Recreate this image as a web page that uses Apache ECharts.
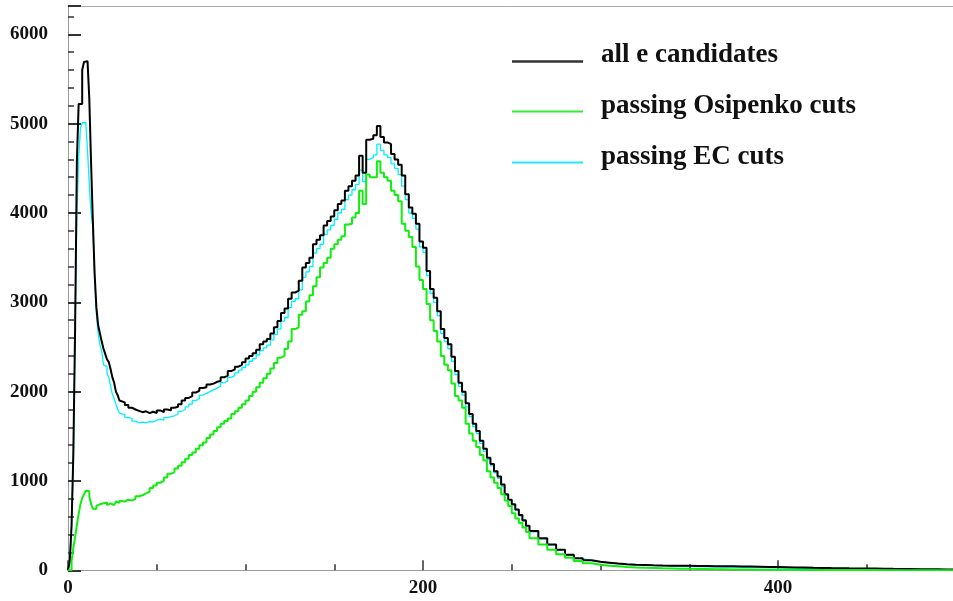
<!DOCTYPE html>
<html><head><meta charset="utf-8">
<script src="https://cdn.jsdelivr.net/npm/echarts@6/dist/echarts.min.js"></script>
<style>html,body{margin:0;padding:0;background:#fff}#c{width:953px;height:601px}</style>
</head><body><div id="c"></div>
<script>
// Legend names
const seriesNames = ['all e candidates', 'passing Osipenko cuts', 'passing EC cuts'];
// Histogram bin layout: segments of [start, width]; last edge at xEnd
const binSegments = [[0, 1], [30, 2], [260, 5]];
const xEnd = 500;
// Tick label values
const xTickLabels = [0, 200, 400];
const yTickLabels = [0, 1000, 2000, 3000, 4000, 5000, 6000];

// all e candidates (black)
const blackFine = [0,100,500,1300,2700,4580,5220,5220,5600,5690,5700,5690,5280,4560,3910,3320,2940,2740,2650,2560,2480,2420,2360,2330,2250,2160,2100,2000,1960,1900];
const blackMid = [1880,1850,1820,1800,1785,1770,1780,1760,1775,1760,
 1790,1770,1800,1790,1820,1830,1860,1900,1930,1950,
 1990,2010,2040,2050,2080,2090,2110,2120,2160,2180,
 2230,2250,2280,2300,2330,2370,2400,2430,2470,2530,
 2560,2590,2650,2720,2790,2880,2930,3040,3110,3130,
 3240,3390,3440,3500,3650,3700,3750,3860,3910,3960,
 4030,4100,4140,4250,4300,4360,4420,4640,4450,4820,
 4830,4870,4975,4850,4790,4770,4660,4600,4540,4420,
 4210,4060,3990,3880,3680,3610,3350,3150,3050,2900,
 2700,2600,2530,2390,2230,2100,2000,1870,1750,1640,
 1560,1450,1360,1260,1190,1110,1050,960,850,790,
 740,680,620,560,500];
const blackTail = [440,360,290,230,175,135,112,95,85,75,
 68,62,60,56,53,51,50,50,48,47,
 46,45,44,43,42,40,38,36,34,32,
 30,28,27,25,24,22,21,20,19,18,
 16,15,14,13,12,11,10,9];

// passing Osipenko cuts (green)
const greenFine = [0,0,100,250,370,510,630,740,810,850,890,885,830,740,690,685,720,740,725,750,745,760,730,750,760,730,750,770,755,780];
const greenMid = [770,790,780,800,830,840,860,880,920,950,
 980,1000,1040,1080,1100,1140,1170,1210,1250,1290,
 1320,1360,1400,1430,1480,1520,1560,1600,1640,1670,
 1700,1750,1780,1820,1860,1900,1950,2000,2050,2100,
 2150,2200,2260,2320,2380,2400,2480,2560,2700,2720,
 2860,2900,3010,3080,3180,3280,3390,3440,3500,3600,
 3650,3700,3740,3870,3880,3950,4000,4250,4100,4430,
 4400,4400,4580,4450,4400,4360,4250,4200,4130,3880,
 3800,3730,3620,3400,3250,3150,2980,2800,2680,2560,
 2400,2300,2240,2090,1950,1900,1820,1640,1530,1450,
 1380,1290,1230,1110,1040,980,920,850,780,720,
 640,580,530,480,430];
const greenTail = [360,290,230,180,140,105,80,62,52,45,
 38,32,28,25,22,20,18,16,15,14,
 12,11,10,9,8,7,7,6,5,5,
 4,4,3,3,3,2,2,2,2,1,
 1,1,1,1,1,0,0,0];

// passing EC cuts (cyan)
const cyanFine = [0,100,480,1250,2650,4000,4600,4950,5010,5010,5010,4700,4320,4000,3840,3300,2870,2650,2520,2450,2300,2280,2200,2160,2060,1970,1920,1860,1800,1760];
const cyanMid = [1740,1710,1700,1670,1650,1660,1650,1665,1660,1680,
 1690,1680,1710,1720,1730,1750,1780,1800,1830,1860,
 1900,1920,1960,1980,2000,2020,2040,2060,2100,2120,
 2160,2180,2210,2240,2270,2300,2340,2370,2410,2460,
 2490,2520,2580,2640,2700,2790,2830,2940,3010,3040,
 3140,3280,3340,3400,3550,3600,3650,3760,3810,3860,
 3930,4000,4040,4150,4200,4260,4320,4480,4350,4600,
 4620,4650,4770,4700,4650,4620,4550,4500,4430,4300,
 4150,4000,3940,3820,3620,3560,3300,3100,3000,2850,
 2650,2560,2480,2340,2190,2060,1960,1830,1720,1610,
 1530,1420,1330,1240,1170,1090,1030,940,840,780,
 730,670,610,550,490];
const cyanTail = [430,350,285,225,170,130,108,92,82,72,
 65,60,57,53,50,48,45,44,42,40,
 38,36,35,34,32,31,29,27,26,24,
 23,21,19,17,16,15,13,12,11,11,
 9,9,8,7,6,5,4,4];

function buildSteps(parts) {
  const pts = [];
  parts.forEach((vals, k) => {
    const [start, width] = binSegments[k];
    vals.forEach((v, i) => pts.push([start + i * width, v]));
  });
  pts.push([xEnd, pts[pts.length - 1][1]]);
  return pts;
}

const blackData = buildSteps([blackFine, blackMid, blackTail]);
const greenData = buildSteps([greenFine, greenMid, greenTail]);
const cyanData = buildSteps([cyanFine, cyanMid, cyanTail]);

const labelFont = { fontFamily: 'Liberation Serif', fontWeight: 'bold', fontSize: 19, color: '#111' };
const YMAX = 6317;

const chart = echarts.init(document.getElementById('c'), null, { renderer: 'canvas' });
chart.setOption({
  animation: false,
  backgroundColor: '#fff',
  grid: { left: 68, width: 887.5, top: 6, height: 564.3, containLabel: false, outerBoundsMode: 'none' },
  xAxis: [
    { type: 'value', min: 0, max: xEnd, interval: 200, position: 'bottom',
      axisLine: { lineStyle: { color: '#999', width: 1 } },
      axisTick: { inside: true, length: 10, lineStyle: { color: '#333', width: 1.5 } },
      axisLabel: Object.assign({ margin: 8, formatter: v => xTickLabels.includes(v) ? String(v) : '' }, labelFont),
      splitLine: { show: false } },
    { type: 'value', min: 0, max: xEnd, interval: 50, position: 'bottom',
      axisLine: { show: false },
      axisTick: { inside: true, length: 6, lineStyle: { color: '#333', width: 1.5 } },
      axisLabel: { show: false }, splitLine: { show: false } },
    { type: 'value', min: 0, max: xEnd, position: 'top',
      axisLine: { lineStyle: { color: '#aaa', width: 1 } },
      axisTick: { show: false }, axisLabel: { show: false }, splitLine: { show: false } }
  ],
  yAxis: [
    { type: 'value', min: 0, max: YMAX, interval: 1000, position: 'left',
      axisLine: { show: true, lineStyle: { color: '#999', width: 1 } },
      axisTick: { show: true, inside: true, length: 13, lineStyle: { color: '#333', width: 2 } },
      axisLabel: Object.assign({ margin: 20, formatter: v => yTickLabels.includes(v) ? String(v) : '' }, labelFont),
      splitLine: { show: false } },
    { type: 'value', min: 0, max: YMAX, interval: 200, position: 'left',
      axisLine: { show: false },
      axisTick: { show: true, inside: true, length: 6, lineStyle: { color: '#333', width: 1.5 } },
      axisLabel: { show: false }, splitLine: { show: false } }
  ],
  series: [
    { name: seriesNames[2], type: 'line', step: 'end', data: cyanData, showSymbol: false, z: 2,
      lineStyle: { color: '#00f0ff', width: 1.3 } },
    { name: seriesNames[0], type: 'line', step: 'end', data: blackData, showSymbol: false, z: 3,
      lineStyle: { color: '#000', width: 2 } },
    { name: seriesNames[1], type: 'line', step: 'end', data: greenData, showSymbol: false, z: 4,
      lineStyle: { color: '#10ee10', width: 2 } }
  ],
  graphic: [
    { type: 'line', shape: { x1: 512, y1: 61.5, x2: 583, y2: 61.5 }, style: { stroke: '#333', lineWidth: 2.5 } },
    { type: 'line', shape: { x1: 512, y1: 111.5, x2: 583, y2: 111.5 }, style: { stroke: '#33ee33', lineWidth: 2 } },
    { type: 'line', shape: { x1: 512, y1: 162.5, x2: 583, y2: 162.5 }, style: { stroke: '#22e8ff', lineWidth: 2 } },
    { type: 'text', left: 601, top: 42, style: { text: seriesNames[0], font: 'bold 27px "Liberation Serif"', fill: '#111' } },
    { type: 'text', left: 601, top: 93, style: { text: seriesNames[1], font: 'bold 27px "Liberation Serif"', fill: '#111' } },
    { type: 'text', left: 601, top: 144, style: { text: seriesNames[2], font: 'bold 27px "Liberation Serif"', fill: '#111' } }
  ]
});
</script>
</body></html>
